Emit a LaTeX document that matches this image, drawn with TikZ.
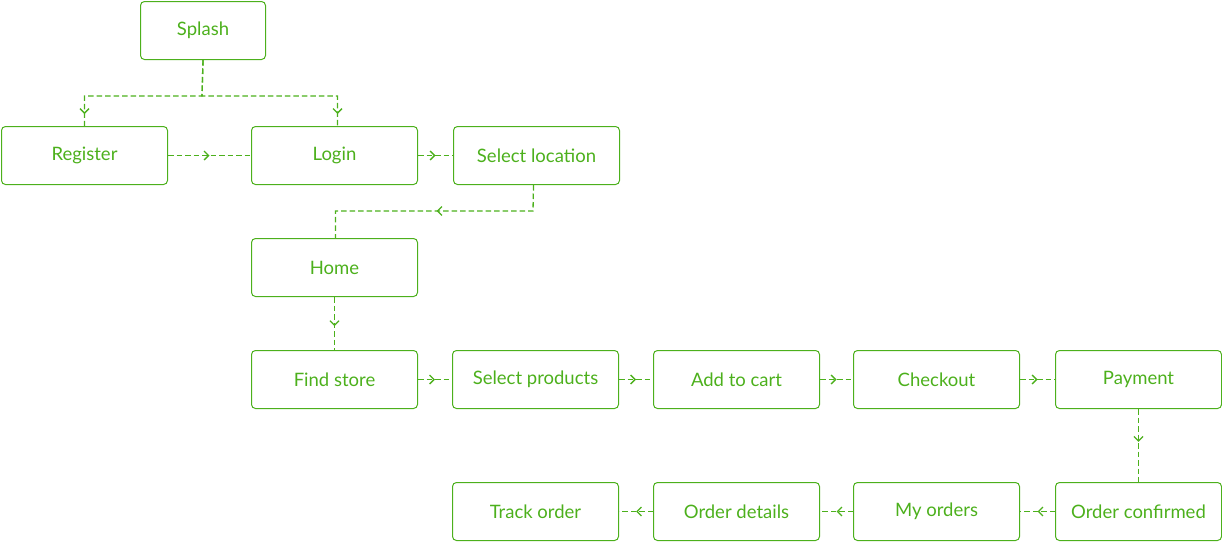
\documentclass[tikz,border=0pt]{standalone}
\usepackage{fontspec}
\setmainfont{Lato}
\usetikzlibrary{arrows.meta,decorations.markings}
\definecolor{fg}{RGB}{76,176,28}
\tikzset{
  box/.style={draw=fg, line width=1pt, rounded corners=4pt, minimum width=166pt, minimum height=58pt, inner sep=0pt, text=fg, font=\fontsize{18.5}{20}\selectfont, anchor=north west},
  conn/.style={draw=fg, line width=1.3pt, dash pattern=on 5.5pt off 3pt},
  midarrow/.style={postaction={decorate}, decoration={markings, mark=at position #1 with {\arrow[fg, line width=1.3pt]{Straight Barb[length=4.5pt,width=9pt]}}}}
}
\begin{document}
\begin{tikzpicture}[x=1pt,y=-1pt]
\useasboundingbox (0,0) rectangle (1222,541);
\node[box, minimum width=125pt] (splash) at (140,1) {Splash};
\node[box] (register) at (1,126) {Register};
\node[box] (login) at (251,126) {Login};
\node[box] (loc) at (453,126) {Select location};
\node[box] (home) at (251,238) {Home};
\node[box] (find) at (251,350) {Find store};
\node[box] (sel) at (452,350) {Select products};
\node[box] (cart) at (653,350) {Add to cart};
\node[box] (check) at (853,350) {Checkout};
\node[box] (pay) at (1055,350) {Payment};
\node[box] (conf) at (1055,482) {Order confirmed};
\node[box] (myo) at (853,482) {My orders};
\node[box] (det) at (653,482) {Order details};
\node[box] (track) at (452,482) {Track order};

\coordinate (sp) at (202,96);
\draw[conn, midarrow=-12pt] (splash.south) -- (sp) -| (register.north);
\draw[conn, midarrow=-12pt] (splash.south) -- (sp) -| ([xshift=3pt]login.north);
\draw[conn, midarrow=0.5] (register.east) -- (login.west);
\draw[conn, midarrow=0.5] (login.east) -- (loc.west);
\coordinate (lh) at (533,211);
\draw[conn, midarrow=-128pt] ([xshift=-3pt]loc.south) -- (lh) -| ([xshift=1pt]home.north);
\draw[conn, midarrow=0.55] (home.south) -- (find.north);
\draw[conn, midarrow=0.5] (find.east) -- (sel.west);
\draw[conn, midarrow=0.5] (sel.east) -- (cart.west);
\draw[conn, midarrow=0.5] (cart.east) -- (check.west);
\draw[conn, midarrow=0.5] (check.east) -- (pay.west);
\draw[conn, midarrow=0.45] (pay.south) -- (conf.north);
\draw[conn, midarrow=0.5] (conf.west) -- (myo.east);
\draw[conn, midarrow=0.5] (myo.west) -- (det.east);
\draw[conn, midarrow=0.5] (det.west) -- (track.east);
\end{tikzpicture}
\end{document}
